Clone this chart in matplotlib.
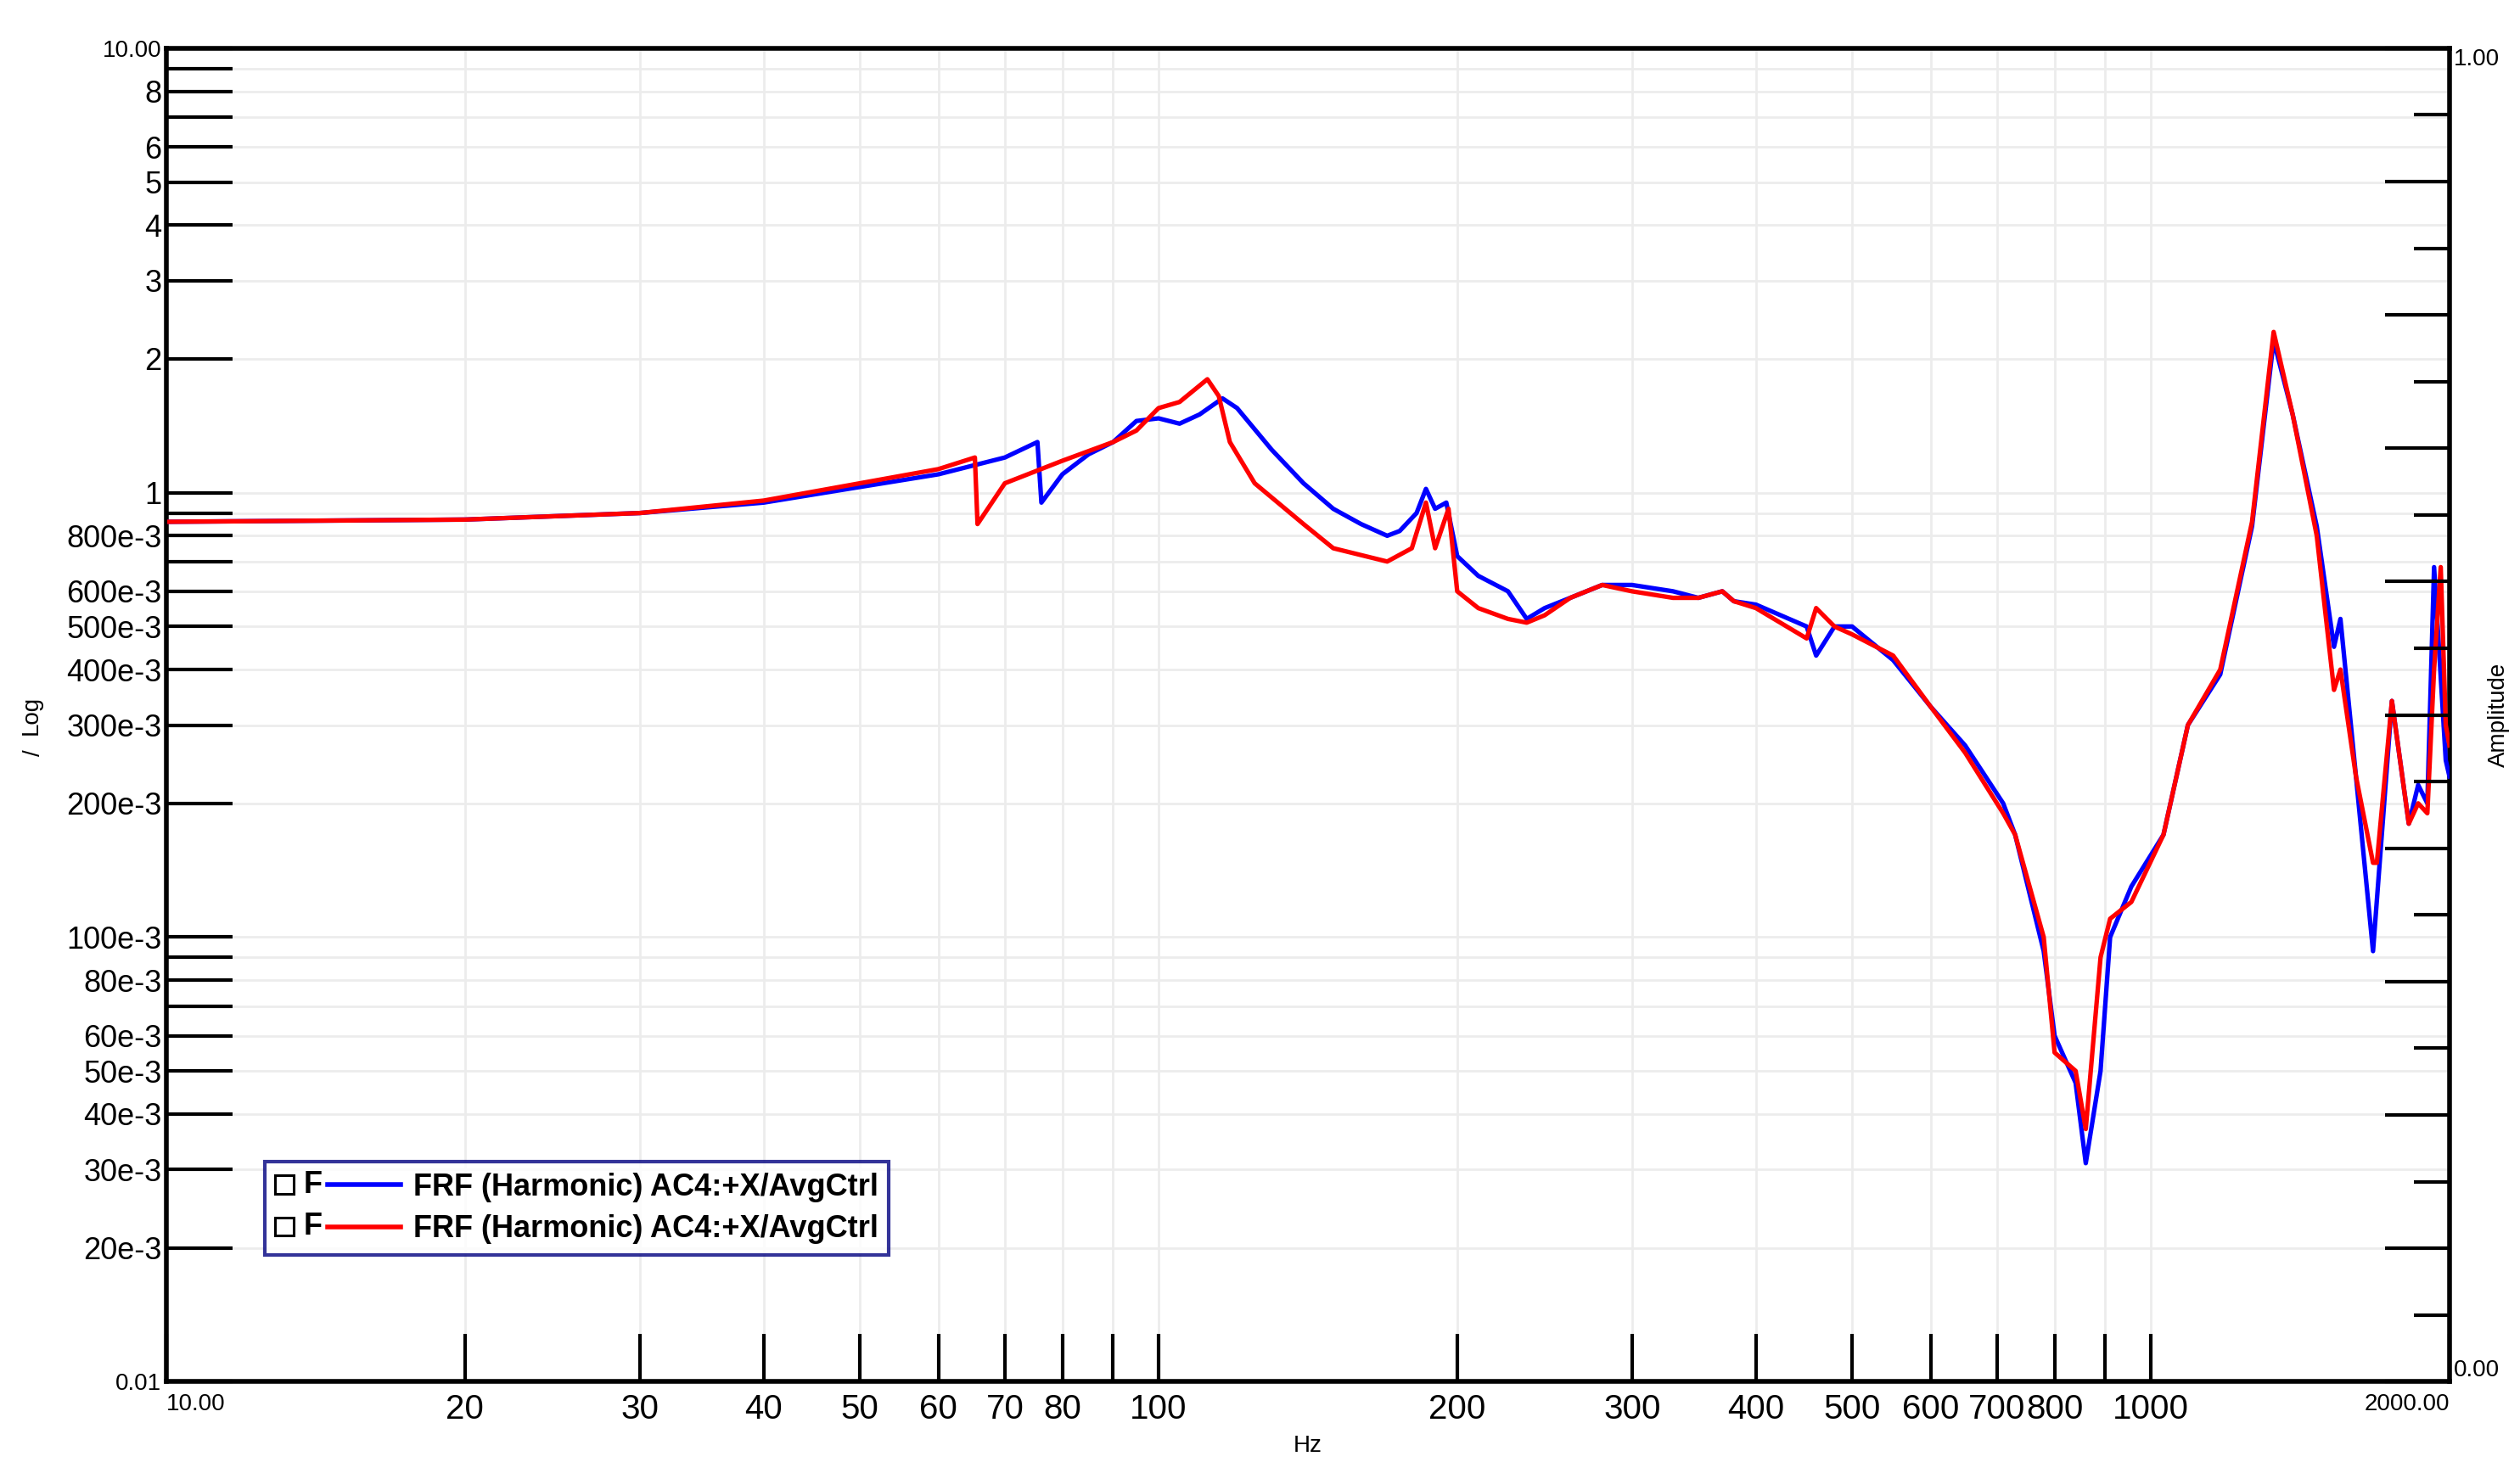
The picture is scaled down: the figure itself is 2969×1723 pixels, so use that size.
import matplotlib
matplotlib.use("Agg")
import matplotlib.pyplot as plt
import numpy as np
from matplotlib.lines import Line2D
from matplotlib.patches import Rectangle
from matplotlib.text import Text

plt.rcParams['font.family'] = ['Liberation Sans', 'DejaVu Sans']

blue_f = [10, 20, 30, 40, 50, 60, 70, 75.5, 76.2, 80, 85, 90, 95, 100, 105, 110, 116, 120, 130, 140, 150,
          160, 170, 175, 182, 186, 190, 195, 200, 210, 225, 235, 245, 260, 280, 300, 330, 350, 370, 380,
          400, 450, 460, 480, 500, 550, 600, 650, 710, 730, 780, 800, 840, 860, 890, 910, 956, 1030, 1090,
          1175, 1265, 1330, 1390, 1470, 1530, 1553, 1610, 1675, 1750, 1820, 1860, 1900, 1930, 1983, 2000]
blue_v = [0.86, 0.87, 0.9, 0.95, 1.03, 1.1, 1.2, 1.3, 0.95, 1.1, 1.22, 1.3, 1.45, 1.47, 1.43, 1.5, 1.63, 1.55, 1.25, 1.05, 0.92,
          0.85, 0.8, 0.82, 0.9, 1.02, 0.92, 0.95, 0.72, 0.65, 0.6, 0.52, 0.55, 0.58, 0.62, 0.62, 0.6, 0.58, 0.6, 0.57,
          0.56, 0.5, 0.43, 0.5, 0.5, 0.42, 0.33, 0.27, 0.2, 0.17, 0.093, 0.06, 0.047, 0.031, 0.05, 0.1, 0.13, 0.17, 0.3,
          0.39, 0.84, 2.2, 1.5, 0.84, 0.45, 0.52, 0.23, 0.093, 0.34, 0.18, 0.22, 0.2, 0.68, 0.25, 0.23]

red_f = [10, 20, 30, 40, 50, 60, 65.3, 65.7, 70, 80, 90, 95, 100, 105, 112, 115, 118, 125, 140, 150,
         170, 180, 186, 190, 196, 200, 210, 225, 235, 245, 260, 280, 300, 330, 350, 370, 380,
         400, 450, 460, 480, 500, 550, 600, 650, 710, 730, 780, 800, 840, 860, 870, 890, 910, 956, 1030, 1090,
         1175, 1265, 1330, 1390, 1470, 1530, 1553, 1610, 1675, 1690, 1750, 1820, 1860, 1900, 1930, 1960, 1983, 2000]
red_v = [0.86, 0.87, 0.9, 0.96, 1.05, 1.13, 1.2, 0.85, 1.05, 1.18, 1.3, 1.38, 1.55, 1.6, 1.8, 1.65, 1.3, 1.05, 0.85, 0.75,
         0.7, 0.75, 0.95, 0.75, 0.92, 0.6, 0.55, 0.52, 0.51, 0.53, 0.58, 0.62, 0.6, 0.58, 0.58, 0.6, 0.57,
         0.55, 0.47, 0.55, 0.5, 0.48, 0.43, 0.33, 0.26, 0.19, 0.17, 0.1, 0.055, 0.05, 0.037, 0.05, 0.09, 0.11, 0.12, 0.17, 0.3,
         0.4, 0.86, 2.3, 1.5, 0.8, 0.36, 0.4, 0.23, 0.147, 0.147, 0.34, 0.18, 0.2, 0.19, 0.4, 0.68, 0.3, 0.27]

y_ticks = [0.01, 0.02, 0.03, 0.04, 0.05, 0.06, 0.08, 0.1, 0.2, 0.3, 0.4, 0.5, 0.6, 0.8, 1, 2, 3, 4, 5, 6, 8, 10]
y_labels = ['0.01', '20e-3', '30e-3', '40e-3', '50e-3', '60e-3', '80e-3', '100e-3', '200e-3', '300e-3', '400e-3',
            '500e-3', '600e-3', '800e-3', '1', '2', '3', '4', '5', '6', '8', '10.00']
y_unlabeled = [0.07, 0.09, 0.7, 0.9, 7, 9]
x_ticks = [10, 20, 30, 40, 50, 60, 70, 80, 100, 200, 300, 400, 500, 600, 700, 800, 1000, 2000]
x_labels = ['10.00', '20', '30', '40', '50', '60', '70', '80', '100', '200', '300', '400', '500', '600', '700', '800', '1000', '2000.00']
x_unlabeled = [90, 900]
legend_labels = ['FRF (Harmonic) AC4:+X/AvgCtrl', 'FRF (Harmonic) AC4:+X/AvgCtrl']


class FHandler:
    """Draws '□ F ———' as a legend handle."""
    def legend_artist(self, legend, orig, fontsize, hb):
        x0, y0 = hb.xdescent, hb.ydescent
        w, h = hb.width, hb.height
        s = h * 0.85
        r = Rectangle((x0, y0 + (h - s) / 2), s, s, fc='white', ec='black', lw=2.2, transform=hb.get_transform())
        t = Text(x0 + s * 1.55, y0 + h / 2, 'F', fontsize=fontsize, weight='bold', va='center', ha='left',
                 transform=hb.get_transform())
        ln = Line2D([x0 + w * 0.42, x0 + w], [y0 + h / 2] * 2, color=orig.get_color(), lw=4,
                    transform=hb.get_transform())
        for a in (r, t, ln):
            hb.add_artist(a)
        return ln


fig = plt.figure(figsize=(29.69, 17.23), dpi=100)
ax = fig.add_axes([0.066, 0.055, 0.906, 0.912])
ax.set_xscale('log'); ax.set_yscale('log')
ax.set_xlim(10, 2000); ax.set_ylim(0.01, 10)

for v in y_ticks + y_unlabeled:
    ax.axhline(v, color='#ececec', lw=2, zorder=0)
for v in x_ticks + x_unlabeled:
    ax.axvline(v, color='#ececec', lw=2, zorder=0)

lb, = ax.plot(blue_f, blue_v, color='#0000ff', lw=3.8, zorder=3)
lr, = ax.plot(red_f, red_v, color='#ff0000', lw=3.8, zorder=4)

ax.minorticks_off()
ax.set_yticks(y_ticks + y_unlabeled)
ax.set_yticklabels(y_labels + [''] * len(y_unlabeled))
ax.set_xticks(x_ticks + x_unlabeled)
ax.set_xticklabels(x_labels + [''] * len(x_unlabeled))
ax.tick_params(axis='y', direction='in', length=56, width=3, labelsize=26, pad=4)
ax.tick_params(axis='x', direction='in', length=40, width=3, labelsize=29, pad=10)
for t in ax.get_yticklabels():
    if t.get_text() in ('0.01', '10.00'):
        t.set_fontsize(20)
for t in ax.get_xticklabels():
    if t.get_text() in ('10.00', '2000.00'):
        t.set_fontsize(20); t.set_horizontalalignment('left' if t.get_text() == '10.00' else 'right')
for s in ax.spines.values():
    s.set_linewidth(4)
ax.set_xlabel('Hz', fontsize=20, labelpad=8)
ax.set_ylabel('Log', fontsize=20, labelpad=20)
fig.text(0.009, 0.485, '/', fontsize=20, rotation=90, va='center')

ax2 = ax.twinx()
ax2.set_yscale('linear'); ax2.set_ylim(0, 1)
ax2.set_yticks(np.arange(0, 1.01, 0.1))
ax2.set_yticks(np.arange(0.05, 1.0, 0.1), minor=True)
ax2.set_yticklabels(['0.00'] + [''] * 9 + ['1.00'])
ax2.tick_params(axis='y', which='major', direction='in', length=55, width=3, labelsize=20)
ax2.tick_params(axis='y', which='minor', direction='in', length=30, width=3)
ax2.set_ylabel('Amplitude', fontsize=20, labelpad=-10)
for lab in ax2.get_yticklabels():
    lab.set_verticalalignment('top' if lab.get_text() == '1.00' else 'bottom')

leg = ax.legend([lb, lr], legend_labels, loc='lower left',
                bbox_to_anchor=(0.043, 0.095), prop={'size': 26, 'weight': 'bold'},
                fancybox=False, edgecolor='#000080', handlelength=4.1, borderpad=0.35,
                labelspacing=0.4, borderaxespad=0, handletextpad=0.4,
                handler_map={lb: FHandler(), lr: FHandler()})
leg.get_frame().set_linewidth(3)
fig.savefig('out.png', dpi=100)
